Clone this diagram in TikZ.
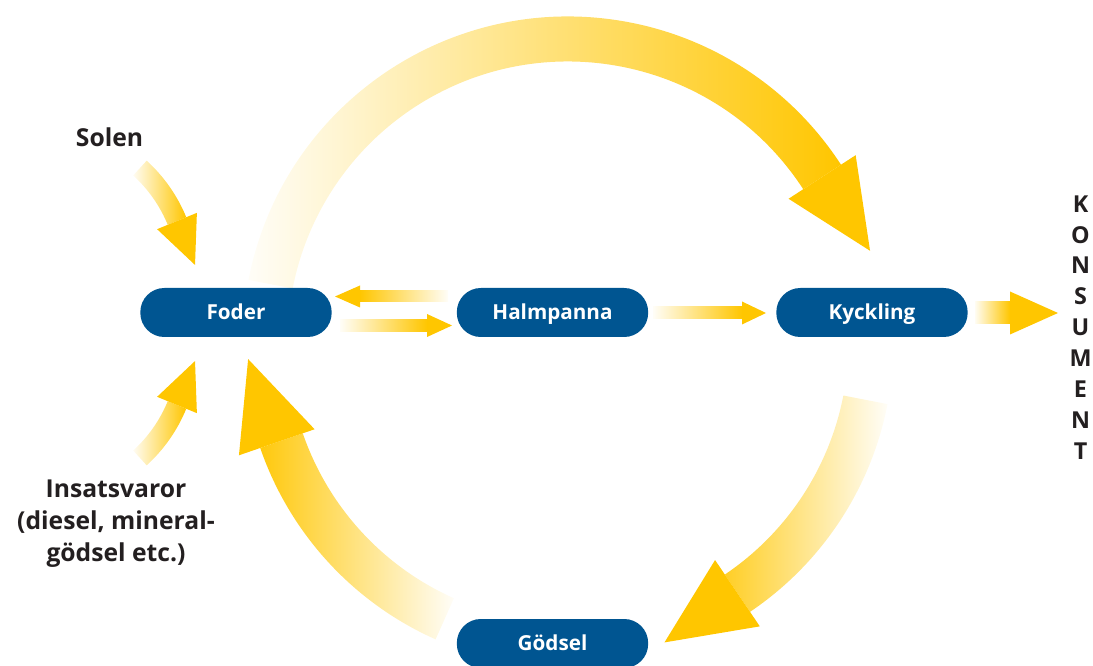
\documentclass[tikz,border=0pt]{standalone}
\usepackage{fontspec}
\setmainfont{Open Sans}
\usetikzlibrary{calc}
\definecolor{yel}{RGB}{255,198,0}
\definecolor{nodeblue}{RGB}{0,85,145}
\definecolor{ink}{RGB}{35,31,32}
\begin{document}
\begin{tikzpicture}[x=0.75pt,y=0.75pt,
  box/.style={fill=nodeblue, rounded corners=18pt, minimum width=143.5pt, minimum height=36.75pt,
    text=white, font=\fontsize{15.5}{18}\selectfont\bfseries, inner sep=0pt,
    text height=11.1pt, text depth=0pt},
  lab/.style={text=ink, font=\fontsize{18.5}{24}\selectfont\bfseries, inner sep=0pt, align=center},
  konsum/.style={text=ink, font=\fontsize{17.5}{23.2}\selectfont\bfseries, inner sep=0pt, align=center},
  headfill/.style={fill=yel, draw=none},
]
\useasboundingbox (0,0) rectangle (1093,-666);

% ring centre and small-arrow centres
\coordinate (C) at (568,-342);
\coordinate (S) at (41,-276.8);
\coordinate (I) at (41,-349.2);

% ---- big ring arrows ----
% top: Foder -> Kyckling
\shade[left color=yel!3, right color=yel]
  ([shift={(169:325.5)}]C) arc[start angle=169, end angle=33, radius=325.5]
  -- ([shift={(33:280.5)}]C) arc[start angle=33, end angle=169, radius=280.5] -- cycle;
\fill[headfill] ([shift={(33:343)}]C) -- ([shift={(33:263)}]C)
  -- ($([shift={(33:303)}]C)+(-57:88)$) -- cycle;

% right-bottom: Kyckling -> Gödsel
\shade[left color=yel!85, right color=yel!3]
  ([shift={(-11:325.5)}]C) arc[start angle=-11, end angle=-56, radius=325.5]
  -- ([shift={(-56:280.5)}]C) arc[start angle=-56, end angle=-11, radius=280.5] -- cycle;
\fill[headfill] ([shift={(-56:343)}]C) -- ([shift={(-56:263)}]C)
  -- ($([shift={(-56:303)}]C)+(-146:88)$) -- cycle;

% left-bottom: Gödsel -> Foder
\shade[left color=yel!95, right color=yel!3]
  ([shift={(-114:325.5)}]C) arc[start angle=-114, end angle=-161, radius=325.5]
  -- ([shift={(-161:280.5)}]C) arc[start angle=-161, end angle=-114, radius=280.5] -- cycle;
\fill[headfill] ([shift={(-161:348)}]C) -- ([shift={(-161:268)}]C)
  -- ($([shift={(-161:308)}]C)+(109:88)$) -- cycle;

% ---- Solen arrow ----
\shade[left color=yel!5, right color=yel]
  ([shift={(47.7:157)}]S) arc[start angle=47.7, end angle=22.3, radius=157]
  -- ([shift={(22.3:137)}]S) arc[start angle=22.3, end angle=47.7, radius=137] -- cycle;
\fill[headfill] ([shift={(22.3:168.5)}]S) -- ([shift={(22.3:125.5)}]S)
  -- ($([shift={(22.3:147)}]S)+(-67.7:47.5)$) -- cycle;

% ---- Insatsvaror arrow ----
\shade[left color=yel!5, right color=yel]
  ([shift={(-47.7:157)}]I) arc[start angle=-47.7, end angle=-22.3, radius=157]
  -- ([shift={(-22.3:137)}]I) arc[start angle=-22.3, end angle=-47.7, radius=137] -- cycle;
\fill[headfill] ([shift={(-22.3:168.5)}]I) -- ([shift={(-22.3:125.5)}]I)
  -- ($([shift={(-22.3:147)}]I)+(67.7:47.5)$) -- cycle;

% ---- nodes ----
\node[box] (foder) at (236,-312.5) {Foder};
\node[box] (halm) at (552.5,-312.5) {Halmpanna};
\node[box] (kyck) at (872,-312.5) {Kyckling};
\node[box] (godsel) at (552.5,-643.5) {Gödsel};

\node[lab, anchor=base] (solen) at (109.5,-147) {Solen};
\node[lab] (insats) at (116,-524) {Insatsvaror\\(diesel, mineral-\\gödsel etc.)};
\node[konsum] (konsument) at (1080.5,-327.5) {K\\O\\N\\S\\U\\M\\E\\N\\T};

% ---- straight arrows ----
% Halmpanna -> Foder
\shade[left color=yel, right color=yel!3] (360,-291) rectangle (448,-302);
\fill[headfill] (360,-285.5) -- (360,-307.5) -- (335,-296.5) -- cycle;
% Foder -> Halmpanna
\shade[left color=yel!3, right color=yel] (340,-319.5) rectangle (427,-331.5);
\fill[headfill] (427,-314) -- (427,-337) -- (452,-325.5) -- cycle;
% Halmpanna -> Kyckling
\shade[left color=yel!3, right color=yel] (653,-307) rectangle (742,-319);
\fill[headfill] (742,-301.5) -- (742,-324.5) -- (766,-313) -- cycle;
% Kyckling -> Konsument
\shade[left color=yel!5, right color=yel] (975,-302) rectangle (1010,-324);
\fill[headfill] (1010,-291.5) -- (1010,-334.5) -- (1058,-313) -- cycle;
\end{tikzpicture}
\end{document}
